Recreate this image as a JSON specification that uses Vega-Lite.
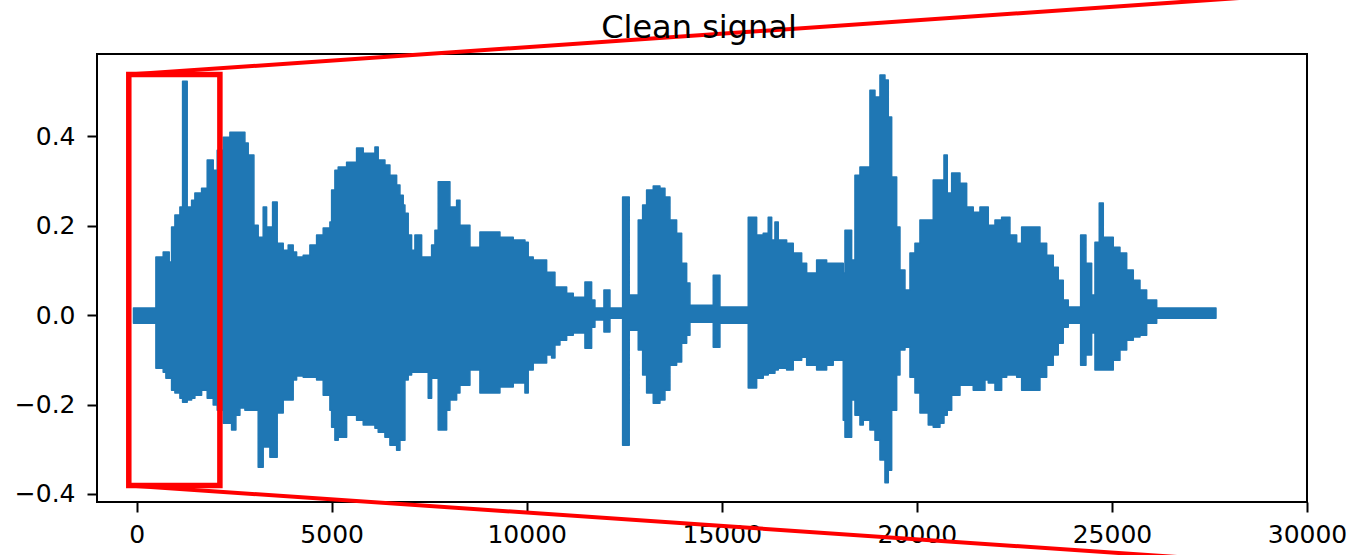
{
  "$schema": "https://vega.github.io/schema/vega-lite/v6.json",
  "width": 1210,
  "height": 448,
  "autosize": {"type": "none"},
  "padding": {"left": 97, "top": 54, "right": 46, "bottom": 53},
  "background": "white",
  "title": {"text": "Clean signal", "frame": "group", "anchor": "middle", "offset": -85, "dx": -3, "baseline": "alphabetic", "fontSize": 32, "font": "DejaVu Sans", "fontWeight": "normal", "color": "#000000"},
  "config": {
    "view": {"stroke": "#000000", "strokeWidth": 2},
    "axis": {"labelFont": "DejaVu Sans", "labelFontSize": 25, "labelColor": "#000000", "tickColor": "#000000", "tickWidth": 2, "tickSize": 10, "domain": false, "grid": false, "labelFlush": false, "labelOverlap": false}
  },
  "datasets": {
    "sig": [
      {"t": -80, "hi": 0.016, "lo": -0.018},
      {"t": 495, "hi": 0.130, "lo": -0.119},
      {"t": 682, "hi": 0.141, "lo": -0.128},
      {"t": 751, "hi": 0.141, "lo": -0.141},
      {"t": 836, "hi": 0.119, "lo": -0.141},
      {"t": 897, "hi": 0.197, "lo": -0.168},
      {"t": 982, "hi": 0.224, "lo": -0.174},
      {"t": 1110, "hi": 0.242, "lo": -0.186},
      {"t": 1179, "hi": 0.523, "lo": -0.195},
      {"t": 1297, "hi": 0.242, "lo": -0.190},
      {"t": 1410, "hi": 0.257, "lo": -0.186},
      {"t": 1494, "hi": 0.273, "lo": -0.179},
      {"t": 1666, "hi": 0.284, "lo": -0.168},
      {"t": 1810, "hi": 0.347, "lo": -0.186},
      {"t": 1964, "hi": 0.324, "lo": -0.201},
      {"t": 2066, "hi": 0.369, "lo": -0.213},
      {"t": 2220, "hi": 0.398, "lo": -0.242},
      {"t": 2392, "hi": 0.409, "lo": -0.242},
      {"t": 2435, "hi": 0.409, "lo": -0.257},
      {"t": 2545, "hi": 0.409, "lo": -0.224},
      {"t": 2648, "hi": 0.409, "lo": -0.208},
      {"t": 2776, "hi": 0.385, "lo": -0.213},
      {"t": 2861, "hi": 0.358, "lo": -0.213},
      {"t": 3007, "hi": 0.201, "lo": -0.213},
      {"t": 3117, "hi": 0.174, "lo": -0.340},
      {"t": 3245, "hi": 0.242, "lo": -0.295},
      {"t": 3332, "hi": 0.197, "lo": -0.295},
      {"t": 3417, "hi": 0.197, "lo": -0.318},
      {"t": 3486, "hi": 0.253, "lo": -0.318},
      {"t": 3604, "hi": 0.161, "lo": -0.219},
      {"t": 3758, "hi": 0.145, "lo": -0.190},
      {"t": 3886, "hi": 0.157, "lo": -0.190},
      {"t": 4014, "hi": 0.141, "lo": -0.145},
      {"t": 4101, "hi": 0.130, "lo": -0.136},
      {"t": 4271, "hi": 0.134, "lo": -0.139},
      {"t": 4442, "hi": 0.157, "lo": -0.139},
      {"t": 4614, "hi": 0.179, "lo": -0.145},
      {"t": 4783, "hi": 0.195, "lo": -0.179},
      {"t": 4955, "hi": 0.208, "lo": -0.213},
      {"t": 4999, "hi": 0.280, "lo": -0.251},
      {"t": 5083, "hi": 0.324, "lo": -0.280},
      {"t": 5168, "hi": 0.331, "lo": -0.273},
      {"t": 5383, "hi": 0.342, "lo": -0.224},
      {"t": 5639, "hi": 0.374, "lo": -0.235},
      {"t": 5809, "hi": 0.362, "lo": -0.246},
      {"t": 6109, "hi": 0.376, "lo": -0.253},
      {"t": 6193, "hi": 0.347, "lo": -0.262},
      {"t": 6365, "hi": 0.336, "lo": -0.273},
      {"t": 6493, "hi": 0.313, "lo": -0.291},
      {"t": 6665, "hi": 0.291, "lo": -0.302},
      {"t": 6750, "hi": 0.268, "lo": -0.280},
      {"t": 6834, "hi": 0.246, "lo": -0.280},
      {"t": 6878, "hi": 0.228, "lo": -0.145},
      {"t": 6962, "hi": 0.179, "lo": -0.134},
      {"t": 7049, "hi": 0.145, "lo": -0.128},
      {"t": 7134, "hi": 0.179, "lo": -0.128},
      {"t": 7306, "hi": 0.130, "lo": -0.128},
      {"t": 7475, "hi": 0.130, "lo": -0.186},
      {"t": 7562, "hi": 0.157, "lo": -0.141},
      {"t": 7647, "hi": 0.190, "lo": -0.141},
      {"t": 7731, "hi": 0.298, "lo": -0.257},
      {"t": 7947, "hi": 0.298, "lo": -0.213},
      {"t": 8031, "hi": 0.242, "lo": -0.190},
      {"t": 8203, "hi": 0.257, "lo": -0.174},
      {"t": 8288, "hi": 0.201, "lo": -0.157},
      {"t": 8544, "hi": 0.152, "lo": -0.123},
      {"t": 8800, "hi": 0.186, "lo": -0.174},
      {"t": 9313, "hi": 0.174, "lo": -0.161},
      {"t": 9654, "hi": 0.168, "lo": -0.152},
      {"t": 9954, "hi": 0.163, "lo": -0.174},
      {"t": 10038, "hi": 0.130, "lo": -0.123},
      {"t": 10166, "hi": 0.123, "lo": -0.107},
      {"t": 10510, "hi": 0.096, "lo": -0.089},
      {"t": 10638, "hi": 0.096, "lo": -0.096},
      {"t": 10723, "hi": 0.063, "lo": -0.067},
      {"t": 10851, "hi": 0.063, "lo": -0.056},
      {"t": 11023, "hi": 0.049, "lo": -0.045},
      {"t": 11192, "hi": 0.040, "lo": -0.040},
      {"t": 11492, "hi": 0.074, "lo": -0.074},
      {"t": 11663, "hi": 0.034, "lo": -0.027},
      {"t": 11748, "hi": 0.016, "lo": -0.011},
      {"t": 11979, "hi": 0.056, "lo": -0.038},
      {"t": 12133, "hi": 0.016, "lo": -0.007},
      {"t": 12458, "hi": 0.264, "lo": -0.291},
      {"t": 12627, "hi": 0.045, "lo": -0.034},
      {"t": 12858, "hi": 0.213, "lo": -0.078},
      {"t": 12971, "hi": 0.246, "lo": -0.134},
      {"t": 13073, "hi": 0.280, "lo": -0.174},
      {"t": 13243, "hi": 0.289, "lo": -0.197},
      {"t": 13414, "hi": 0.284, "lo": -0.190},
      {"t": 13543, "hi": 0.264, "lo": -0.168},
      {"t": 13671, "hi": 0.213, "lo": -0.112},
      {"t": 13842, "hi": 0.183, "lo": -0.105},
      {"t": 13971, "hi": 0.116, "lo": -0.063},
      {"t": 14099, "hi": 0.072, "lo": -0.045},
      {"t": 14183, "hi": 0.022, "lo": -0.016},
      {"t": 14781, "hi": 0.089, "lo": -0.072},
      {"t": 14952, "hi": 0.018, "lo": -0.018},
      {"t": 15678, "hi": 0.219, "lo": -0.163},
      {"t": 15893, "hi": 0.179, "lo": -0.141},
      {"t": 16062, "hi": 0.183, "lo": -0.134},
      {"t": 16190, "hi": 0.219, "lo": -0.130},
      {"t": 16278, "hi": 0.168, "lo": -0.130},
      {"t": 16362, "hi": 0.208, "lo": -0.123},
      {"t": 16447, "hi": 0.168, "lo": -0.119},
      {"t": 16662, "hi": 0.161, "lo": -0.123},
      {"t": 16831, "hi": 0.139, "lo": -0.101},
      {"t": 17047, "hi": 0.116, "lo": -0.094},
      {"t": 17175, "hi": 0.094, "lo": -0.112},
      {"t": 17431, "hi": 0.123, "lo": -0.123},
      {"t": 17687, "hi": 0.116, "lo": -0.112},
      {"t": 17856, "hi": 0.116, "lo": -0.101},
      {"t": 18113, "hi": 0.094, "lo": -0.235},
      {"t": 18157, "hi": 0.190, "lo": -0.273},
      {"t": 18328, "hi": 0.123, "lo": -0.190},
      {"t": 18413, "hi": 0.313, "lo": -0.224},
      {"t": 18541, "hi": 0.331, "lo": -0.246},
      {"t": 18626, "hi": 0.331, "lo": -0.235},
      {"t": 18797, "hi": 0.503, "lo": -0.257},
      {"t": 18926, "hi": 0.488, "lo": -0.280},
      {"t": 19054, "hi": 0.537, "lo": -0.324},
      {"t": 19182, "hi": 0.526, "lo": -0.375},
      {"t": 19267, "hi": 0.443, "lo": -0.347},
      {"t": 19354, "hi": 0.309, "lo": -0.213},
      {"t": 19482, "hi": 0.197, "lo": -0.134},
      {"t": 19567, "hi": 0.101, "lo": -0.078},
      {"t": 19695, "hi": 0.056, "lo": -0.072},
      {"t": 19823, "hi": 0.139, "lo": -0.139},
      {"t": 19951, "hi": 0.161, "lo": -0.174},
      {"t": 20079, "hi": 0.213, "lo": -0.219},
      {"t": 20292, "hi": 0.213, "lo": -0.246},
      {"t": 20420, "hi": 0.302, "lo": -0.251},
      {"t": 20592, "hi": 0.302, "lo": -0.242},
      {"t": 20695, "hi": 0.358, "lo": -0.224},
      {"t": 20779, "hi": 0.273, "lo": -0.213},
      {"t": 20892, "hi": 0.318, "lo": -0.179},
      {"t": 21105, "hi": 0.295, "lo": -0.157},
      {"t": 21276, "hi": 0.242, "lo": -0.157},
      {"t": 21445, "hi": 0.230, "lo": -0.168},
      {"t": 21617, "hi": 0.242, "lo": -0.168},
      {"t": 21745, "hi": 0.242, "lo": -0.145},
      {"t": 21830, "hi": 0.201, "lo": -0.152},
      {"t": 22002, "hi": 0.213, "lo": -0.168},
      {"t": 22173, "hi": 0.219, "lo": -0.139},
      {"t": 22302, "hi": 0.219, "lo": -0.134},
      {"t": 22386, "hi": 0.179, "lo": -0.134},
      {"t": 22558, "hi": 0.161, "lo": -0.139},
      {"t": 22686, "hi": 0.197, "lo": -0.168},
      {"t": 23155, "hi": 0.161, "lo": -0.139},
      {"t": 23327, "hi": 0.134, "lo": -0.112},
      {"t": 23496, "hi": 0.107, "lo": -0.089},
      {"t": 23624, "hi": 0.078, "lo": -0.063},
      {"t": 23752, "hi": 0.034, "lo": -0.027},
      {"t": 23881, "hi": 0.018, "lo": -0.018},
      {"t": 24198, "hi": 0.179, "lo": -0.112},
      {"t": 24334, "hi": 0.116, "lo": -0.089},
      {"t": 24480, "hi": 0.045, "lo": -0.040},
      {"t": 24565, "hi": 0.163, "lo": -0.123},
      {"t": 24675, "hi": 0.251, "lo": -0.123},
      {"t": 24778, "hi": 0.174, "lo": -0.123},
      {"t": 25034, "hi": 0.152, "lo": -0.101},
      {"t": 25206, "hi": 0.139, "lo": -0.078},
      {"t": 25378, "hi": 0.101, "lo": -0.056},
      {"t": 25547, "hi": 0.078, "lo": -0.049},
      {"t": 25719, "hi": 0.056, "lo": -0.045},
      {"t": 25890, "hi": 0.034, "lo": -0.018},
      {"t": 26147, "hi": 0.016, "lo": -0.007},
      {"t": 27667, "hi": 0.011, "lo": -0.004}
    ],
    "box": [{"x0": -200, "x1": 2135, "y0": -0.381, "y1": 0.538}],
    "conn": [
      {"xa": -200, "ya": 0.538, "xb": 32380, "yb": 0.734},
      {"xa": -200, "ya": -0.381, "xb": 32380, "yb": -0.575}
    ]
  },
  "layer": [
    {
      "data": {"name": "sig"},
      "mark": {"type": "area", "interpolate": "step-after", "color": "#1f77b4", "stroke": "#1f77b4", "strokeWidth": 1.5, "strokeJoin": "round"},
      "encoding": {
        "x": {"field": "t", "type": "quantitative", "scale": {"domain": [-1015, 30000], "nice": false, "zero": false},
              "axis": {"title": null, "values": [0, 5000, 10000, 15000, 20000, 25000, 30000], "format": "d", "labelPadding": 10}},
        "y": {"field": "hi", "type": "quantitative", "scale": {"domain": [-0.418, 0.584], "nice": false, "zero": false},
              "axis": {"title": null, "values": [-0.4, -0.2, 0, 0.2, 0.4], "format": ".1f", "labelPadding": 12}},
        "y2": {"field": "lo"}
      }
    },
    {
      "data": {"name": "box"},
      "mark": {"type": "rect", "filled": false, "stroke": "#ff0000", "strokeWidth": 5.5, "clip": false},
      "encoding": {
        "x": {"field": "x0", "type": "quantitative"},
        "x2": {"field": "x1"},
        "y": {"field": "y0", "type": "quantitative"},
        "y2": {"field": "y1"}
      }
    },
    {
      "data": {"name": "conn"},
      "mark": {"type": "rule", "color": "#ff0000", "strokeWidth": 4, "clip": false},
      "encoding": {
        "x": {"field": "xa", "type": "quantitative"},
        "x2": {"field": "xb"},
        "y": {"field": "ya", "type": "quantitative"},
        "y2": {"field": "yb"}
      }
    }
  ]
}
